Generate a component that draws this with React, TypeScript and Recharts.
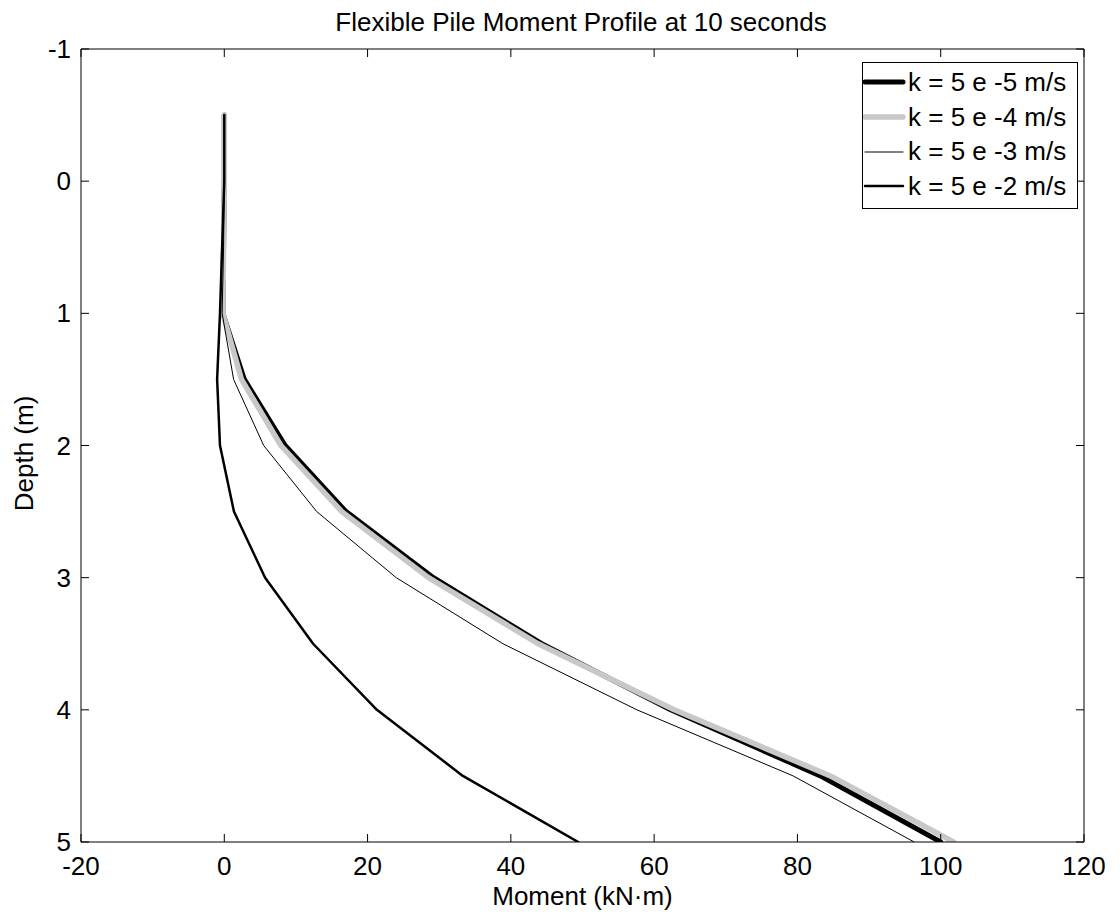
import React from "react";
import { LineChart, Line, XAxis, YAxis, Legend } from "recharts";

// depth below surface (m) for each computed node
const depths = [-0.5, 0, 0.5, 1, 1.5, 2, 2.5, 3, 3.5, 4, 4.5, 5];

// bending moment (kN·m) per permeability case
const k5e5 = [0, 0, -0.1, -0.2, 2.8, 8.5, 17, 29.2, 44.3, 62.3, 83.2, 100];
const k5e4 = [0, 0, -0.1, -0.2, 2.4, 7.9, 16.4, 28.5, 43.8, 62.8, 84.6, 101.8];
const k5e3 = [0, 0, -0.1, -0.3, 1.3, 5.5, 12.9, 24, 38.9, 57.6, 79.4, 96.3];
const k5e2 = [0, 0, -0.3, -0.6, -1.0, -0.6, 1.35, 5.7, 12.4, 21.3, 33.3, 49.4];

const xTicks = [-20, 0, 20, 40, 60, 80, 100, 120];
const yTicks = [-1, 0, 1, 2, 3, 4, 5];

const FONT = "'Liberation Sans', Arial, Helvetica, sans-serif";
const FS = 26;
const TICK_LEN = 8;

const rows = depths.map((depth, i) => ({
  depth,
  k5e5: k5e5[i],
  k5e4: k5e4[i],
  k5e3: k5e3[i],
  k5e2: k5e2[i],
}));

const series = [
  { key: "k5e5", name: "k = 5 e -5 m/s", color: "#000000", width: 5 },
  { key: "k5e4", name: "k = 5 e -4 m/s", color: "#c8c8c8", width: 5.5 },
  { key: "k5e3", name: "k = 5 e -3 m/s", color: "#000000", width: 1 },
  { key: "k5e2", name: "k = 5 e -2 m/s", color: "#000000", width: 2.5 },
];

// matlab-style ticks: marks point into the plot box
const BottomTick = (props: any) => {
  const { x, y, payload } = props;
  const axisY = y - 14;
  return (
    <g>
      <line x1={x} y1={axisY} x2={x} y2={axisY - TICK_LEN} stroke="#000" />
      <text x={x} y={y + 18.5} textAnchor="middle" fontSize={FS} fontFamily={FONT} fill="#000">
        {payload.value}
      </text>
    </g>
  );
};

const LeftTick = (props: any) => {
  const { x, y, payload } = props;
  const axisX = x + 10;
  return (
    <g>
      <line x1={axisX} y1={y} x2={axisX + TICK_LEN} y2={y} stroke="#000" />
      <text x={x} y={y + 9} textAnchor="end" fontSize={FS} fontFamily={FONT} fill="#000">
        {payload.value}
      </text>
    </g>
  );
};

const TopTick = (props: any) => {
  const { x, y } = props;
  return <line x1={x} y1={y} x2={x} y2={y + TICK_LEN} stroke="#000" />;
};

const RightTick = (props: any) => {
  const { x, y } = props;
  return <line x1={x} y1={y} x2={x - TICK_LEN} y2={y} stroke="#000" />;
};

function LegendBox() {
  return (
    <div
      style={{
        border: "1px solid #000",
        background: "#fff",
        width: 214,
        paddingTop: 2,
        paddingBottom: 4,
        fontFamily: FONT,
        fontSize: FS,
        color: "#000",
      }}
    >
      {series.map((s) => (
        <div key={s.key} style={{ display: "flex", alignItems: "center", height: 34.7 }}>
          <svg width={44} height={12} style={{ display: "block", flex: "none" }}>
            <line
              x1={2}
              y1={6}
              x2={40}
              y2={6}
              stroke={s.color}
              strokeWidth={s.width}
              strokeLinecap="round"
            />
          </svg>
          <span style={{ marginLeft: 1, whiteSpace: "nowrap" }}>{s.name}</span>
        </div>
      ))}
    </div>
  );
}

function DepthLabel(props: any) {
  const vb = props.viewBox || { x: 21, y: 49, width: 60, height: 793 };
  const cx = vb.x + 12;
  const cy = vb.y + vb.height / 2 + 8;
  return (
    <text
      x={cx}
      y={cy}
      transform={`rotate(-90 ${cx} ${cy})`}
      textAnchor="middle"
      fontSize={FS}
      fontFamily={FONT}
      fill="#000"
    >
      Depth (m)
    </text>
  );
}

export default function App() {
  return (
    <div style={{ position: "relative", width: 1120, height: 917, background: "#fff" }}>
      <style>{"body{margin:0}"}</style>
      <div
        style={{
          position: "absolute",
          top: 9,
          left: 0,
          width: 1162,
          textAlign: "center",
          fontFamily: FONT,
          fontSize: FS,
          lineHeight: `${FS}px`,
          color: "#000",
          whiteSpace: "nowrap",
        }}
      >
        Flexible Pile Moment Profile at 10 seconds
      </div>
      <LineChart
        width={1120}
        height={917}
        data={rows}
        layout="vertical"
        margin={{ top: 48, right: 35, bottom: 35, left: 21 }}
      >
        <XAxis
          type="number"
          domain={[-20, 120]}
          ticks={xTicks}
          allowDataOverflow
          stroke="#000"
          tick={<BottomTick />}
          tickLine={false}
          tickSize={0}
          tickMargin={14}
          height={40}
          label={{
            value: "Moment (kN·m)",
            position: "bottom",
            offset: 4.5,
            fill: "#000",
            fontSize: FS,
            fontFamily: FONT,
          }}
        />
        <XAxis
          xAxisId="top"
          orientation="top"
          type="number"
          domain={[-20, 120]}
          ticks={xTicks}
          allowDataOverflow
          stroke="#000"
          tick={<TopTick />}
          tickLine={false}
          tickSize={0}
          tickMargin={0}
          height={1}
        />
        <YAxis
          type="number"
          dataKey="depth"
          domain={[-1, 5]}
          ticks={yTicks}
          allowDataOverflow
          stroke="#000"
          tick={<LeftTick />}
          tickLine={false}
          tickSize={0}
          tickMargin={10}
          width={60}
          label={{ content: DepthLabel }}
        />
        <YAxis
          yAxisId="right"
          orientation="right"
          type="number"
          dataKey="depth"
          domain={[-1, 5]}
          ticks={yTicks}
          allowDataOverflow
          stroke="#000"
          tick={<RightTick />}
          tickLine={false}
          tickSize={0}
          tickMargin={0}
          width={1}
        />
        <Legend
          layout="vertical"
          align="center"
          verticalAlign="middle"
          wrapperStyle={{ top: 62, left: 862, width: 216 }}
          content={() => <LegendBox />}
        />
        {series.map((s) => (
          <Line
            key={s.key}
            type="linear"
            dataKey={s.key}
            name={s.name}
            stroke={s.color}
            strokeWidth={s.width}
            strokeLinecap="round"
            strokeLinejoin="round"
            dot={false}
            activeDot={false}
            isAnimationActive={false}
          />
        ))}
      </LineChart>
    </div>
  );
}
